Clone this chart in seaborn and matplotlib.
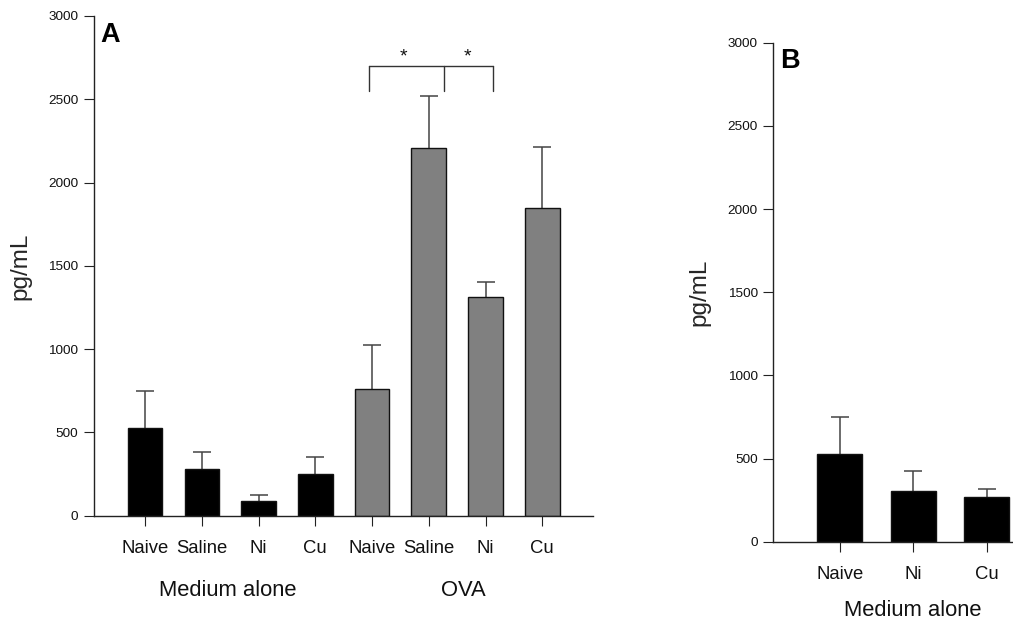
import matplotlib
matplotlib.use("Agg")
import matplotlib.pyplot as plt
import numpy as np
import pandas as pd
import seaborn as sns

sns.set_theme(style="ticks")
plt.rcParams["font.family"] = ["Liberation Sans", "DejaVu Sans"]
plt.rcParams["text.color"] = "#111111"

# Panel A: cytokine release, medium alone vs OVA restimulation
a_labels = ["Naive", "Saline", "Ni", "Cu", "Naive", "Saline", "Ni", "Cu"]
a_groups = ["Medium alone"] * 4 + ["OVA"] * 4
a_means = [528, 280, 86, 252, 760, 2210, 1312, 1850]
a_sem = [222, 100, 36, 102, 264, 308, 92, 364]

# Panel B: medium alone only
b_labels = ["Naive", "Ni", "Cu"]
b_groups = ["Medium alone"] * 3
b_means = [525, 302, 268]
b_sem = [222, 126, 46]

# significance bracket (x in category units, y in pg/mL)
bracket_legs = [3.94, 5.26, 6.13]
bracket_top = 2700
bracket_foot = 2550
star_x = [4.56, 5.69]
star_y = 2755

palette = {"Medium alone": "#000000", "OVA": "#808080"}
y_ticks = [0, 500, 1000, 1500, 2000, 2500, 3000]

fig = plt.figure(figsize=(10.13, 6.22), dpi=100)
ax_a = fig.add_axes([0.0928, 0.1709, 0.4929, 0.8034])
ax_b = fig.add_axes([0.7634, 0.1291, 0.2366, 0.8023])


def draw_panel(ax, labels, groups, means, sems):
    df = pd.DataFrame({
        "slot": [f"{g}:{l}" for g, l in zip(groups, labels)],
        "group": groups,
        "value": means,
    })
    sns.barplot(data=df, x="slot", y="value", hue="group", palette=palette,
                dodge=False, width=0.61, edgecolor="#111111", linewidth=1.0,
                errorbar=None, legend=False, ax=ax, zorder=2)
    pos = np.arange(len(means))
    # upper-only SEM whiskers
    _, caps, _ = ax.errorbar(pos, means, yerr=[np.zeros(len(sems)), sems],
                             fmt="none", ecolor="#444444", elinewidth=1.1,
                             capsize=6.5, capthick=1.1, zorder=1)
    caps[0].set_visible(False)
    ax.set_xticks(pos)
    ax.set_xticklabels(labels, fontsize=13.3)
    ax.set_yticks(y_ticks)
    ax.set_yticklabels([str(t) for t in y_ticks], fontsize=9.7)
    ax.set_ylim(0, 3000)
    ax.set_xlabel("")
    ax.set_ylabel("pg/mL", fontsize=17.5)
    for side in ("top", "right"):
        ax.spines[side].set_visible(False)
    for side in ("left", "bottom"):
        ax.spines[side].set_color("#222222")
        ax.spines[side].set_linewidth(1.0)
    ax.tick_params(axis="both", direction="out", length=7.2, width=0.8,
                   color="#222222", labelcolor="#111111")
    ax.tick_params(axis="x", pad=10.4)
    ax.tick_params(axis="y", pad=4)
    ax.set_facecolor("white")


draw_panel(ax_a, a_labels, a_groups, a_means, a_sem)
draw_panel(ax_b, b_labels, b_groups, b_means, b_sem)

ax_a.set_xlim(-0.90, 7.90)
ax_b.set_xlim(-0.905, 2.36)

ax_a.yaxis.set_label_coords(-0.1248, 0.5)
ax_b.yaxis.set_label_coords(-0.264, 0.5)

# group captions under the category labels
ax_a.text(1.45, -0.1487, "Medium alone", transform=ax_a.get_xaxis_transform(),
          ha="center", va="center", fontsize=15.8)
ax_a.text(5.6, -0.1487, "OVA", transform=ax_a.get_xaxis_transform(),
          ha="center", va="center", fontsize=15.8)
ax_b.text(1.0, -0.1369, "Medium alone", transform=ax_b.get_xaxis_transform(),
          ha="center", va="center", fontsize=15.8)

# panel letters
ax_a.text(0.0134, 0.9486, "A", transform=ax_a.transAxes, ha="left",
          va="baseline", fontsize=19.5, fontweight="bold", color="black")
ax_b.text(0.028, 0.9487, "B", transform=ax_b.transAxes, ha="left",
          va="baseline", fontsize=19.5, fontweight="bold", color="black")

# significance bracket over the OVA bars
ax_a.plot([bracket_legs[0], bracket_legs[-1]], [bracket_top, bracket_top],
          color="#333333", lw=1.0, clip_on=False)
for xl in bracket_legs:
    ax_a.plot([xl, xl], [bracket_foot, bracket_top], color="#333333", lw=1.0,
              clip_on=False)
for xs in star_x:
    ax_a.text(xs, star_y, "*", ha="center", va="center", fontsize=14)

fig.savefig("out.png", dpi=100, facecolor="white")
